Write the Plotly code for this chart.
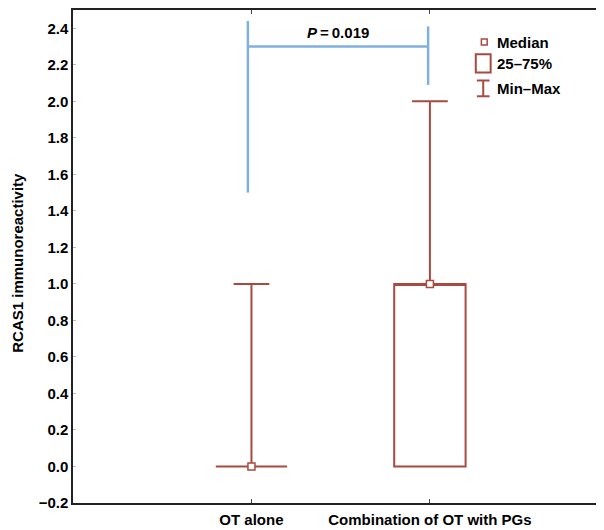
import plotly.graph_objects as go

# ---- data ----
categories = ["OT alone", "Combination of OT with PGs"]
x_pos = [0, 1]
mins = [0.0, 0.0]
q1s = [0.0, 0.0]
medians = [0.0, 1.0]
q3s = [0.0, 1.0]
maxs = [1.0, 2.0]
y_ticks = [-0.2, 0.0, 0.2, 0.4, 0.6, 0.8, 1.0, 1.2, 1.4, 1.6, 1.8, 2.0, 2.2, 2.4]
y_tick_labels = ["\u22120.2", "0.0", "0.2", "0.4", "0.6", "0.8", "1.0", "1.2", "1.4", "1.6", "1.8", "2.0", "2.2", "2.4"]
y_title = "RCAS1 immunoreactivity"
# significance bracket
bracket_x = [-0.02, 0.99]
bracket_left_y = [1.5, 2.44]
bracket_right_y = [2.09, 2.41]
bracket_bar_y = 2.3
p_text = "<i>P</i>\u2009=\u20090.019"

RED = "#a84a40"
BLUE = "#7fb0e0"
FONT = "Liberation Sans, Arial, sans-serif"

fig = go.Figure()

for i in range(len(categories)):
    fig.add_trace(go.Box(
        x=[x_pos[i]], q1=[q1s[i]], median=[medians[i]], q3=[q3s[i]],
        lowerfence=[mins[i]], upperfence=[maxs[i]],
        width=0.4, whiskerwidth=0.5,
        line=dict(color=RED, width=2), fillcolor="rgba(0,0,0,0)",
        boxpoints=False, showlegend=False, hoverinfo="skip",
    ))

fig.add_trace(go.Scatter(
    x=x_pos, y=medians, mode="markers",
    marker=dict(symbol="square", size=7, color="white", line=dict(color=RED, width=1.5)),
    showlegend=False, hoverinfo="skip",
))

# bracket
fig.add_trace(go.Scatter(
    x=[bracket_x[0], bracket_x[0], None, bracket_x[0], bracket_x[1], None, bracket_x[1], bracket_x[1]],
    y=[bracket_left_y[0], bracket_left_y[1], None, bracket_bar_y, bracket_bar_y, None, bracket_right_y[0], bracket_right_y[1]],
    mode="lines", line=dict(color=BLUE, width=2.5), showlegend=False, hoverinfo="skip",
))

fig.add_annotation(x=(bracket_x[0] + bracket_x[1]) / 2, y=bracket_bar_y, yshift=14,
                   text="<b>" + p_text + "</b>", showarrow=False,
                   font=dict(family=FONT, size=15, color="black"))

# y axis title as rotated annotation
fig.add_annotation(xref="paper", yref="paper", x=-0.104, y=0.487, xanchor="center", yanchor="middle",
                   text="<b>" + y_title + "</b>", textangle=-90, showarrow=False,
                   font=dict(family=FONT, size=15, color="black"))

# manual legend (paper coords)
lx = 0.776  # marker x in paper
shapes = [
    dict(type="rect", xref="paper", yref="paper", x0=lx - 0.0055, x1=lx + 0.0055, y0=0.929, y1=0.941,
         line=dict(color=RED, width=1.5), fillcolor="white"),
    dict(type="rect", xref="paper", yref="paper", x0=lx - 0.016, x1=lx + 0.012, y0=0.873, y1=0.910,
         line=dict(color=RED, width=2), fillcolor="rgba(0,0,0,0)"),
    dict(type="line", xref="paper", yref="paper", x0=lx - 0.002, x1=lx - 0.002, y0=0.825, y1=0.857,
         line=dict(color=RED, width=2)),
    dict(type="line", xref="paper", yref="paper", x0=lx - 0.014, x1=lx + 0.010, y0=0.857, y1=0.857,
         line=dict(color=RED, width=2)),
    dict(type="line", xref="paper", yref="paper", x0=lx - 0.014, x1=lx + 0.010, y0=0.825, y1=0.825,
         line=dict(color=RED, width=2)),
]
for s in shapes:
    fig.add_shape(**s)
for txt, yy in [("Median", 0.935), ("25\u201375%", 0.892), ("Min\u2013Max", 0.841)]:
    fig.add_annotation(xref="paper", yref="paper", x=0.797, y=yy, xanchor="left", yanchor="middle",
                       text="<b>" + txt + "</b>", showarrow=False,
                       font=dict(family=FONT, size=15, color="black"))

# page body has an 8px margin, compensate so the plot area lands at x 73..603, y 10..503
fig.update_layout(
    width=604, height=530,
    margin=dict(l=65, r=9, t=2, b=35, autoexpand=False),
    paper_bgcolor="white", plot_bgcolor="white",
    font=dict(family=FONT, size=15, color="black"),
    xaxis=dict(range=[-1, 1.97], tickvals=x_pos, ticktext=["<b>" + c + "</b>" for c in categories],
               showgrid=False, zeroline=False, showline=True, linecolor="#222", linewidth=1.5,
               mirror="ticks", ticks="inside", ticklen=4, tickcolor="#444",
               automargin=False, ticklabelstandoff=2),
    yaxis=dict(range=[-0.2, 2.5], tickvals=y_ticks, ticktext=["<b>" + t + "</b>" for t in y_tick_labels],
               showgrid=False, zeroline=False, showline=True, linecolor="#222", linewidth=1.5,
               mirror="ticks", ticks="inside", ticklen=3, tickcolor="#bbb",
               automargin=False),
)

fig.write_html("out.html")
